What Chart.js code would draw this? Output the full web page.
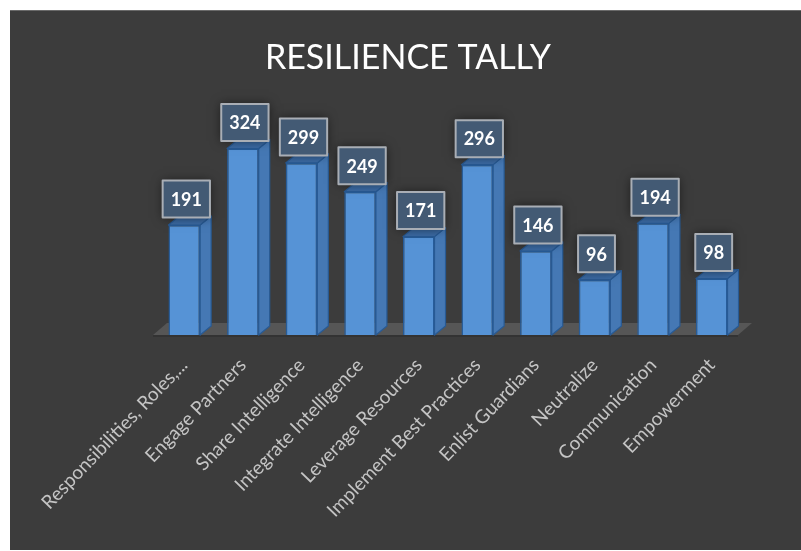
<!DOCTYPE html>
<html><head><meta charset="utf-8">
<script src="https://cdn.jsdelivr.net/npm/chart.js@4.4.0/dist/chart.umd.min.js"></script>
<style>html,body{margin:0;padding:0;background:#fff;overflow:hidden}</style>
</head><body>
<canvas id="c" width="801" height="551"></canvas>
<script>
const categories = ['Responsibilities, Roles,...','Engage Partners','Share Intelligence','Integrate Intelligence','Leverage Resources','Implement Best Practices','Enlist Guardians','Neutralize','Communication','Empowerment'];
const tallyValues = [191,324,299,249,171,296,146,96,194,98];
const chartTitle = 'RESILIENCE TALLY';

const DEPTH_X = 11, DEPTH_Y = 9;

const backdrop = {
  id: 'backdrop',
  beforeDraw(chart) {
    const ctx = chart.ctx;
    ctx.save();
    ctx.fillStyle = '#ffffff';
    ctx.fillRect(0, 0, chart.width, chart.height);
    ctx.fillStyle = '#3c3c3c';
    ctx.fillRect(10, 10, chart.width - 10, chart.height - 11);
    ctx.fillStyle = '#6a6a6a';
    ctx.fillRect(10, 10, chart.width - 10, 1);
    ctx.restore();
  }
};

const floor3d = {
  id: 'floor3d',
  beforeDatasetsDraw(chart) {
    const ctx = chart.ctx, a = chart.chartArea;
    const base = chart.scales.y.getPixelForValue(0);
    const l = a.left - 2, r = a.right - 3, dx = 14, dy = 12;
    ctx.save();
    ctx.fillStyle = '#565656';
    ctx.beginPath();
    ctx.moveTo(l, base);
    ctx.lineTo(r, base);
    ctx.lineTo(r + dx, base - dy);
    ctx.lineTo(l + dx, base - dy);
    ctx.closePath();
    ctx.fill();
    ctx.fillStyle = '#333333';
    ctx.fillRect(l, base, r - l, 2);
    ctx.restore();
  }
};

const bars3d = {
  id: 'bars3d',
  afterDatasetsDraw(chart) {
    const ctx = chart.ctx;
    const meta = chart.getDatasetMeta(0);
    ctx.save();
    ctx.lineJoin = 'round';
    meta.data.forEach((bar) => {
      const {x, y, base, width} = bar.getProps(['x','y','base','width'], true);
      const l = x - width / 2, r = x + width / 2;
      ctx.beginPath();
      ctx.moveTo(r, y); ctx.lineTo(r + DEPTH_X, y - DEPTH_Y);
      ctx.lineTo(r + DEPTH_X, base - DEPTH_Y); ctx.lineTo(r, base); ctx.closePath();
      ctx.fillStyle = '#4578b4'; ctx.fill();
      ctx.strokeStyle = '#285a94'; ctx.lineWidth = 1.2; ctx.stroke();
      ctx.beginPath();
      ctx.moveTo(l, y); ctx.lineTo(l + DEPTH_X, y - DEPTH_Y);
      ctx.lineTo(r + DEPTH_X, y - DEPTH_Y); ctx.lineTo(r, y); ctx.closePath();
      ctx.fillStyle = '#3b6aa3'; ctx.fill();
      ctx.stroke();
    });
    ctx.font = 'bold 18px Lato, "Open Sans", sans-serif';
    ctx.textAlign = 'center';
    ctx.textBaseline = 'middle';
    meta.data.forEach((bar, i) => {
      const {x, y} = bar.getProps(['x','y'], true);
      const txt = String(tallyValues[i]);
      const w = ctx.measureText(txt).width + 16, h = 37;
      const cx = x + 2, bottom = y - 7.5;
      ctx.save();
      ctx.shadowColor = 'rgba(0,0,0,0.55)';
      ctx.shadowBlur = 10;
      ctx.fillStyle = '#435a74';
      ctx.fillRect(cx - w / 2, bottom - h, w, h);
      ctx.restore();
      ctx.strokeStyle = '#a9aeb5';
      ctx.lineWidth = 2;
      ctx.strokeRect(cx - w / 2, bottom - h, w, h);
      ctx.fillStyle = '#ffffff';
      ctx.fillText(txt, cx, bottom - h / 2 + 1);
    });
    ctx.restore();
  }
};

const hiddenAxis = (w, pos) => ({
  display: true,
  position: pos,
  grid: { display: false },
  border: { display: false },
  ticks: { display: false },
  afterFit(scale) { scale.width = w; }
});

new Chart(document.getElementById('c'), {
  type: 'bar',
  data: {
    labels: categories,
    datasets: [{
      data: tallyValues,
      yAxisID: 'y',
      backgroundColor: '#5693d6',
      borderColor: '#275c99',
      borderWidth: 1.5,
      categoryPercentage: 1,
      barPercentage: 0.54
    }]
  },
  options: {
    responsive: false,
    animation: false,
    devicePixelRatio: 1,
    layout: { padding: { left: 15, right: 0, top: 0, bottom: 0 } },
    plugins: {
      legend: { display: false },
      tooltip: { enabled: false },
      title: {
        display: true,
        text: chartTitle,
        color: '#ffffff',
        font: { family: 'Lato', size: 34, weight: 'normal' },
        padding: { top: 38, bottom: 26 }
      }
    },
    scales: {
      x: {
        grid: { display: false },
        border: { display: false },
        ticks: {
          color: '#c4c4c4',
          font: { family: 'Lato', size: 19 },
          minRotation: 46, maxRotation: 46,
          padding: 11,
          autoSkip: false
        },
        afterFit(scale) { scale.height = 216; }
      },
      y: Object.assign(hiddenAxis(140, 'left'), { min: 0, max: 400 }),
      y2: Object.assign(hiddenAxis(60, 'right'), { min: 0, max: 1 })
    }
  },
  plugins: [backdrop, floor3d, bars3d]
});
</script>
</body></html>
